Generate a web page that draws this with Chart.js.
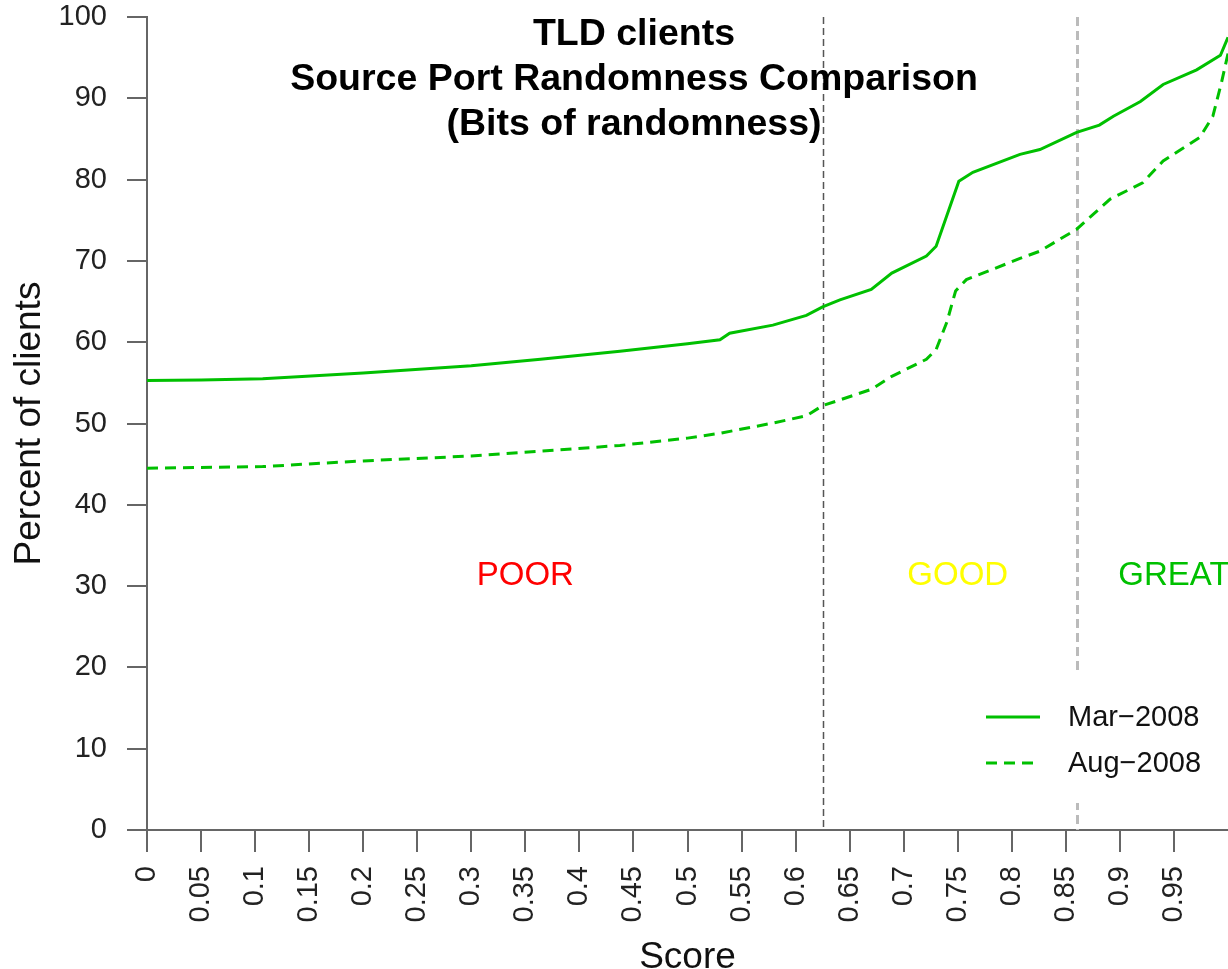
<!DOCTYPE html>
<html lang="en">
<head>
<meta charset="UTF-8">
<title>TLD clients - Source Port Randomness Comparison</title>
<script src="https://cdn.jsdelivr.net/npm/chart.js"></script>
<style>
    body { margin: 0; background: #fff; }
    canvas { display: block; }
</style>
</head>
<body>
<canvas id="graficoScore" width="1228" height="969"></canvas>
<script>
    // cumulative percent of clients at or below each score
    const marScore = [0, 0.05, 0.107, 0.2, 0.3, 0.364, 0.4375, 0.5, 0.53, 0.539, 0.579, 0.61, 0.625, 0.641, 0.67, 0.689, 0.721, 0.73, 0.751, 0.764, 0.8076, 0.826, 0.86, 0.881, 0.894, 0.919, 0.94, 0.971, 0.993, 1.0];
    const marPct = [55.3, 55.35, 55.5, 56.2, 57.1, 57.9, 58.9, 59.8, 60.3, 61.1, 62.1, 63.3, 64.35, 65.2, 66.5, 68.5, 70.6, 71.8, 79.8, 80.9, 83.1, 83.7, 85.8, 86.7, 87.8, 89.6, 91.7, 93.5, 95.3, 97.5];

    const augScore = [0, 0.107, 0.2, 0.3, 0.364, 0.4375, 0.5, 0.53, 0.579, 0.61, 0.625, 0.641, 0.67, 0.689, 0.721, 0.73, 0.74, 0.748, 0.758, 0.8076, 0.826, 0.86, 0.891, 0.921, 0.94, 0.974, 0.986, 0.994, 1.0];
    const augPct = [44.5, 44.7, 45.4, 46.0, 46.6, 47.3, 48.2, 48.8, 50.05, 50.95, 52.2, 52.9, 54.2, 55.8, 57.9, 59.1, 62.5, 66.3, 67.7, 70.3, 71.2, 73.9, 77.6, 79.6, 82.3, 85.2, 87.8, 91.95, 95.5];

    const xTicks = [0, 0.05, 0.1, 0.15, 0.2, 0.25, 0.3, 0.35, 0.4, 0.45, 0.5, 0.55, 0.6, 0.65, 0.7, 0.75, 0.8, 0.85, 0.9, 0.95];
    const yTicks = [0, 10, 20, 30, 40, 50, 60, 70, 80, 90, 100];

    const seriesNames = ['Mar\u22122008', 'Aug\u22122008'];
    const titleLines = ['TLD clients', 'Source Port Randomness Comparison', '(Bits of randomness)'];

    // score thresholds between the zones
    const cutoffs = [0.625, 0.86];
    const zoneNames = ['POOR', 'GOOD', 'GREAT'];
    const zoneScore = [0.35, 0.75, 0.95];
    const zonePct = 30.1;

    const verde = '#00c000';
    const zoneColors = ['#ff0000', '#ffff00', verde];
    const fonte = '"Liberation Sans", Arial, Helvetica, sans-serif';

    Chart.defaults.font.family = fonte;
    Chart.defaults.color = '#222';

    const extras = {
        id: 'extras',
        beforeDatasetsDraw(chart) {
            const ctx = chart.ctx;
            const x = chart.scales.x;
            const y = chart.scales.y;
            const estilos = [
                { cor: '#555', largura: 1.5, traco: [7, 4] },
                { cor: '#bbb', largura: 3, traco: [9, 5] }
            ];
            ctx.save();
            cutoffs.forEach((c, i) => {
                const px = Math.round(x.getPixelForValue(c)) + 0.5;
                ctx.strokeStyle = estilos[i].cor;
                ctx.lineWidth = estilos[i].largura;
                ctx.setLineDash(estilos[i].traco);
                ctx.beginPath();
                ctx.moveTo(px, y.getPixelForValue(100));
                ctx.lineTo(px, y.getPixelForValue(0));
                ctx.stroke();
            });
            ctx.restore();
        },
        afterDatasetsDraw(chart) {
            const ctx = chart.ctx;
            const area = chart.chartArea;
            const x = chart.scales.x;
            const y = chart.scales.y;
            ctx.save();

            // legend box
            ctx.fillStyle = '#fff';
            ctx.fillRect(area.right - 263, area.bottom - 158, 263, 131);
            ctx.font = '29px ' + fonte;
            ctx.textBaseline = 'middle';
            ctx.textAlign = 'left';
            [[], [11, 7]].forEach((traco, i) => {
                const ly = area.bottom - 113 + i * 46;
                ctx.strokeStyle = verde;
                ctx.lineWidth = 3;
                ctx.setLineDash(traco);
                ctx.beginPath();
                ctx.moveTo(area.right - 242, ly);
                ctx.lineTo(area.right - 188, ly);
                ctx.stroke();
                ctx.fillStyle = '#111';
                ctx.fillText(seriesNames[i], area.right - 160, ly + 1);
            });
            ctx.setLineDash([]);

            // zone labels
            ctx.font = '33px ' + fonte;
            ctx.textAlign = 'center';
            ctx.textBaseline = 'alphabetic';
            zoneNames.forEach((nome, i) => {
                ctx.fillStyle = zoneColors[i];
                ctx.fillText(nome, x.getPixelForValue(zoneScore[i]), y.getPixelForValue(zonePct));
            });

            // title
            ctx.font = 'bold 37.5px ' + fonte;
            ctx.fillStyle = '#000';
            titleLines.forEach((linha, i) => {
                ctx.fillText(linha, chart.width / 2 + 20, 45 + i * 45);
            });
            ctx.restore();
        }
    };

    const dados = {
        datasets: [
            {
                label: seriesNames[0],
                data: marScore.map((s, i) => ({ x: s, y: marPct[i] })),
                borderColor: verde,
                borderWidth: 3,
                pointRadius: 0,
                tension: 0
            },
            {
                label: seriesNames[1],
                data: augScore.map((s, i) => ({ x: s, y: augPct[i] })),
                borderColor: verde,
                borderWidth: 3,
                borderDash: [11, 7],
                pointRadius: 0,
                tension: 0
            }
        ]
    };

    new Chart(document.getElementById('graficoScore'), {
        type: 'line',
        data: dados,
        plugins: [extras],
        options: {
            responsive: false,
            animation: false,
            devicePixelRatio: 1,
            layout: { padding: 0 },
            plugins: {
                legend: { display: false },
                tooltip: { enabled: false }
            },
            scales: {
                x: {
                    type: 'linear',
                    min: 0,
                    max: 1,
                    afterBuildTicks: (scale) => { scale.ticks = xTicks.map(v => ({ value: v })); },
                    afterFit: (scale) => { scale.height = 139; },
                    ticks: {
                        autoSkip: false,
                        minRotation: 90,
                        maxRotation: 90,
                        padding: 14,
                        font: { size: 29 },
                        callback: (v) => String(+v.toFixed(2))
                    },
                    grid: { drawOnChartArea: false, tickLength: 22, color: '#666', lineWidth: 2 },
                    border: { color: '#666', width: 2 },
                    title: { display: true, text: 'Score', font: { size: 37, lineHeight: 0.58 }, color: '#111', padding: 0 }
                },
                y: {
                    min: 0,
                    max: 100,
                    afterBuildTicks: (scale) => { scale.ticks = yTicks.map(v => ({ value: v })); },
                    afterFit: (scale) => { scale.width = 147; scale.paddingTop = 17; },
                    ticks: { padding: 20, font: { size: 29 } },
                    grid: { drawOnChartArea: false, tickLength: 20, color: '#666', lineWidth: 2 },
                    border: { color: '#666', width: 2 },
                    title: { display: true, text: 'Percent of clients', font: { size: 37 }, color: '#111', padding: { top: 8, bottom: 0 } }
                }
            }
        }
    });
</script>
</body>
</html>
